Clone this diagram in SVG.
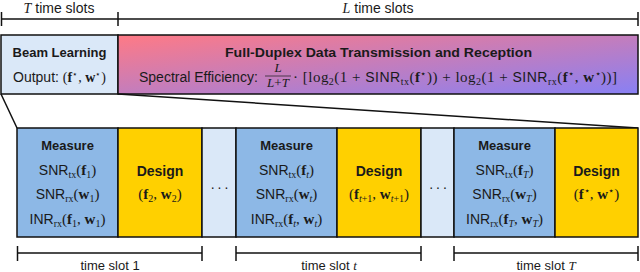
<svg xmlns="http://www.w3.org/2000/svg" width="640" height="272" viewBox="0 0 640 272">
<style>
.sf{font-family:"Liberation Sans",Arial,sans-serif;font-size:13px;fill:#1a1a1a}
.f14{font-size:14px}
.f15{font-size:15px}
.b{font-weight:bold}
.m{font-family:"Liberation Serif","Times New Roman",serif}
.mb{font-family:"Liberation Serif","Times New Roman",serif;font-weight:bold}
.mi{font-family:"Liberation Serif","Times New Roman",serif;font-style:italic}
.ln{stroke:#111;stroke-width:1.5;fill:none}
.box{stroke:#111;stroke-width:1.5}
.meas{fill:#8db8e6}
.des{fill:#ffd000}
.lite{fill:#dae8f8}
</style>
<defs>
<linearGradient id="g" x1="0" y1="0" x2="1" y2="1">
<stop offset="0" stop-color="#ff7a85"/>
<stop offset="1" stop-color="#8880f4"/>
</linearGradient>
</defs>

<g id="timeline-top">
<line class="ln" x1="1" y1="19" x2="638" y2="19"/>
<line class="ln" x1="1.5" y1="12" x2="1.5" y2="26"/>
<line class="ln" x1="118" y1="12" x2="118" y2="26"/>
<line class="ln" x1="638" y1="12" x2="638" y2="26"/>
<text class="sf f14" x="59" y="13" text-anchor="middle"><tspan class="mi">T</tspan> time slots</text>
<text class="sf f14" x="378" y="13" text-anchor="middle"><tspan class="mi">L</tspan> time slots</text>
</g>

<g id="beam-learning">
<rect class="box lite" x="1" y="35" width="117" height="59"/>
<text class="sf b" x="59.5" y="57" text-anchor="middle" font-size="13.5">Beam Learning</text>
<text class="sf f14" x="59.5" y="82" text-anchor="middle">Output: <tspan class="m">(</tspan><tspan class="mb">f</tspan><tspan class="m" font-size="9" dy="-5">⋆</tspan><tspan class="m" dy="5">, </tspan><tspan class="mb">w</tspan><tspan class="m" font-size="9" dy="-5">⋆</tspan><tspan class="m" dy="5">)</tspan></text>
</g>

<g id="full-duplex">
<rect class="box" fill="url(#g)" x="118" y="35" width="520" height="59"/>
<text class="sf b" x="378.5" y="57" text-anchor="middle" textLength="307" lengthAdjust="spacingAndGlyphs">Full-Duplex Data Transmission and Reception</text>
<text class="sf f14" x="139" y="82">Spectral Efficiency:</text>
<line x1="265" y1="76" x2="291" y2="76" stroke="#1a1a1a" stroke-width="0.7"/>
<text class="sf mi" x="278" y="71.5" font-size="8" text-anchor="middle">L</text>
<text class="sf mi" x="278" y="86.5" font-size="8" text-anchor="middle">L<tspan class="m" font-style="normal">+</tspan>T</text>
<text class="sf m f15" x="293" y="82" textLength="324" lengthAdjust="spacing">· [log<tspan font-size="10" dy="3">2</tspan><tspan dy="-3">(1 + </tspan><tspan class="sf f14">SINR</tspan><tspan font-size="10" dy="3">tx</tspan><tspan dy="-3">(</tspan><tspan class="mb">f</tspan><tspan font-size="10" dy="-5">⋆</tspan><tspan dy="5">)) + log</tspan><tspan font-size="10" dy="3">2</tspan><tspan dy="-3">(1 + </tspan><tspan class="sf f14">SINR</tspan><tspan font-size="10" dy="3">rx</tspan><tspan dy="-3">(</tspan><tspan class="mb">f</tspan><tspan font-size="10" dy="-5">⋆</tspan><tspan dy="5">, </tspan><tspan class="mb">w</tspan><tspan font-size="10" dy="-5">⋆</tspan><tspan dy="5">))]</tspan></text>
</g>

<g id="connectors">
<line class="ln" x1="1" y1="94" x2="17" y2="128"/>
<line class="ln" x1="118" y1="94" x2="638" y2="128"/>
</g>

<g id="measure-1">
<rect class="box meas" x="17" y="128" width="101" height="109"/>
<text class="sf b" x="67.5" y="150" text-anchor="middle">Measure</text>
<text class="sf f14" x="67.5" y="175" text-anchor="middle">SNR<tspan class="m" font-size="10" dy="3">tx</tspan><tspan class="m f15" dy="-3">(</tspan><tspan class="mb f15">f</tspan><tspan class="m" font-size="10" dy="3">1</tspan><tspan class="m f15" dy="-3">)</tspan></text>
<text class="sf f14" x="67.5" y="199" text-anchor="middle">SNR<tspan class="m" font-size="10" dy="3">rx</tspan><tspan class="m f15" dy="-3">(</tspan><tspan class="mb f15">w</tspan><tspan class="m" font-size="10" dy="3">1</tspan><tspan class="m f15" dy="-3">)</tspan></text>
<text class="sf f14" x="67.5" y="224" text-anchor="middle">INR<tspan class="m" font-size="10" dy="3">rx</tspan><tspan class="m f15" dy="-3">(</tspan><tspan class="mb f15">f</tspan><tspan class="m" font-size="10" dy="3">1</tspan><tspan class="m f15" dy="-3">, </tspan><tspan class="mb f15">w</tspan><tspan class="m" font-size="10" dy="3">1</tspan><tspan class="m f15" dy="-3">)</tspan></text>
</g>
<g id="design-1">
<rect class="box des" x="118" y="128" width="84" height="109"/>
<text class="sf b f14" x="160" y="176" text-anchor="middle">Design</text>
<text class="sf m f15" x="160" y="199" text-anchor="middle">(<tspan class="mb">f</tspan><tspan font-size="10" dy="3">2</tspan><tspan dy="-3">, </tspan><tspan class="mb">w</tspan><tspan font-size="10" dy="3">2</tspan><tspan dy="-3">)</tspan></text>
</g>
<g id="dots-1">
<rect class="box lite" x="202" y="128" width="34" height="109"/>
<text class="sf f14" x="221" y="189" text-anchor="middle" letter-spacing="3">...</text>
</g>

<g id="measure-t">
<rect class="box meas" x="236" y="128" width="101" height="109"/>
<text class="sf b" x="286.5" y="150" text-anchor="middle">Measure</text>
<text class="sf f14" x="286.5" y="175" text-anchor="middle">SNR<tspan class="m" font-size="10" dy="3">tx</tspan><tspan class="m f15" dy="-3">(</tspan><tspan class="mb f15">f</tspan><tspan class="mi" font-size="10" dy="3">t</tspan><tspan class="m f15" dy="-3">)</tspan></text>
<text class="sf f14" x="286.5" y="199" text-anchor="middle">SNR<tspan class="m" font-size="10" dy="3">rx</tspan><tspan class="m f15" dy="-3">(</tspan><tspan class="mb f15">w</tspan><tspan class="mi" font-size="10" dy="3">t</tspan><tspan class="m f15" dy="-3">)</tspan></text>
<text class="sf f14" x="286.5" y="224" text-anchor="middle">INR<tspan class="m" font-size="10" dy="3">rx</tspan><tspan class="m f15" dy="-3">(</tspan><tspan class="mb f15">f</tspan><tspan class="mi" font-size="10" dy="3">t</tspan><tspan class="m f15" dy="-3">, </tspan><tspan class="mb f15">w</tspan><tspan class="mi" font-size="10" dy="3">t</tspan><tspan class="m f15" dy="-3">)</tspan></text>
</g>
<g id="design-t">
<rect class="box des" x="337" y="128" width="84" height="109"/>
<text class="sf b f14" x="379" y="176" text-anchor="middle">Design</text>
<text class="sf m f15" x="379" y="199" text-anchor="middle">(<tspan class="mb">f</tspan><tspan font-size="10" dy="3"><tspan class="mi">t</tspan>+1</tspan><tspan dy="-3">, </tspan><tspan class="mb">w</tspan><tspan font-size="10" dy="3"><tspan class="mi">t</tspan>+1</tspan><tspan dy="-3">)</tspan></text>
</g>
<g id="dots-2">
<rect class="box lite" x="421" y="128" width="33" height="109"/>
<text class="sf f14" x="439.5" y="189" text-anchor="middle" letter-spacing="3">...</text>
</g>

<g id="measure-T">
<rect class="box meas" x="454" y="128" width="101" height="109"/>
<text class="sf b" x="504.5" y="150" text-anchor="middle">Measure</text>
<text class="sf f14" x="504.5" y="175" text-anchor="middle">SNR<tspan class="m" font-size="10" dy="3">tx</tspan><tspan class="m f15" dy="-3">(</tspan><tspan class="mb f15">f</tspan><tspan class="mi" font-size="10" dy="3">T</tspan><tspan class="m f15" dy="-3">)</tspan></text>
<text class="sf f14" x="504.5" y="199" text-anchor="middle">SNR<tspan class="m" font-size="10" dy="3">rx</tspan><tspan class="m f15" dy="-3">(</tspan><tspan class="mb f15">w</tspan><tspan class="mi" font-size="10" dy="3">T</tspan><tspan class="m f15" dy="-3">)</tspan></text>
<text class="sf f14" x="504.5" y="224" text-anchor="middle">INR<tspan class="m" font-size="10" dy="3">rx</tspan><tspan class="m f15" dy="-3">(</tspan><tspan class="mb f15">f</tspan><tspan class="mi" font-size="10" dy="3">T</tspan><tspan class="m f15" dy="-3">, </tspan><tspan class="mb f15">w</tspan><tspan class="mi" font-size="10" dy="3">T</tspan><tspan class="m f15" dy="-3">)</tspan></text>
</g>
<g id="design-T">
<rect class="box des" x="555" y="128" width="83" height="109"/>
<text class="sf b f14" x="596.5" y="176" text-anchor="middle">Design</text>
<text class="sf m f15" x="596.5" y="199" text-anchor="middle">(<tspan class="mb">f</tspan><tspan font-size="10" dy="-5">⋆</tspan><tspan dy="5">, </tspan><tspan class="mb">w</tspan><tspan font-size="10" dy="-5">⋆</tspan><tspan dy="5">)</tspan></text>
</g>

<g id="timeline-bottom">
<line class="ln" x1="17" y1="253" x2="202" y2="253"/>
<line class="ln" x1="17.5" y1="246" x2="17.5" y2="261"/>
<line class="ln" x1="202" y1="246" x2="202" y2="261"/>
<line class="ln" x1="236" y1="253" x2="421" y2="253"/>
<line class="ln" x1="236" y1="246" x2="236" y2="261"/>
<line class="ln" x1="421" y1="246" x2="421" y2="261"/>
<line class="ln" x1="454" y1="253" x2="638" y2="253"/>
<line class="ln" x1="454" y1="246" x2="454" y2="261"/>
<line class="ln" x1="638" y1="246" x2="638" y2="261"/>
<text class="sf" x="110" y="270" text-anchor="middle" font-size="13.5">time slot 1</text>
<text class="sf" x="329" y="270" text-anchor="middle" font-size="13.5">time slot <tspan class="mi">t</tspan></text>
<text class="sf" x="546" y="270" text-anchor="middle" font-size="13.5">time slot <tspan class="mi">T</tspan></text>
</g>
</svg>
